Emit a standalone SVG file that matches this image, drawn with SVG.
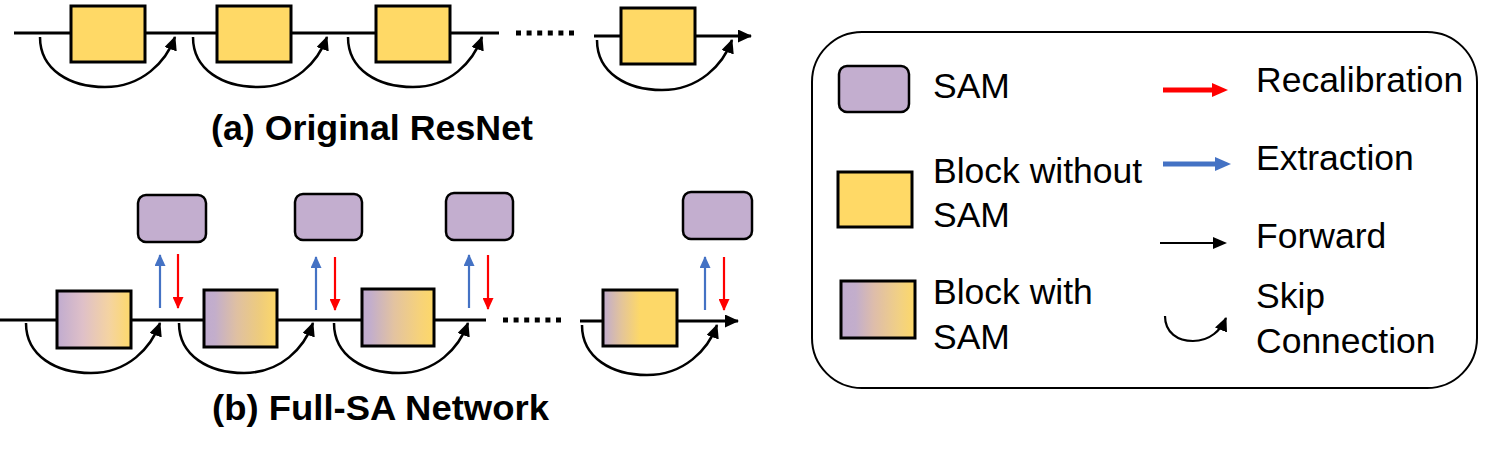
<svg xmlns="http://www.w3.org/2000/svg" width="1486" height="458" viewBox="0 0 1486 458">
<style>
.ln{stroke:#000;stroke-width:3;fill:none}
.arc{stroke:#000;stroke-width:2.5;fill:none;marker-end:url(#ah)}
.blk{fill:#FFD966;stroke:#000;stroke-width:3}
.sam{fill:#C3AECF;stroke:#000;stroke-width:2.5}
.dots{stroke:#000;stroke-width:5;stroke-dasharray:5 5.6;fill:none}
.up{stroke:#4472C4;stroke-width:2.2;fill:none;marker-end:url(#bh)}
.dn{stroke:#FF0000;stroke-width:2.2;fill:none;marker-end:url(#rh)}
.t{font-family:"Liberation Sans",Arial,sans-serif;font-size:35.5px;fill:#000}
.ti{font-family:"Liberation Sans",Arial,sans-serif;font-size:35px;font-weight:bold;fill:#000}
</style>
<defs>
<marker id="ah" markerUnits="userSpaceOnUse" markerWidth="14" markerHeight="13" viewBox="0 0 14 13" refX="13" refY="6.5" orient="auto"><path d="M0,0 L14,6.5 L0,13 z" fill="#000"/></marker>
<marker id="fh" markerUnits="userSpaceOnUse" markerWidth="14" markerHeight="13" viewBox="0 0 14 13" refX="13" refY="6.5" orient="auto"><path d="M0,0 L14,6.5 L0,13 z" fill="#000"/></marker>
<marker id="bh" markerUnits="userSpaceOnUse" markerWidth="12" markerHeight="11" viewBox="0 0 12 11" refX="11" refY="5.5" orient="auto"><path d="M0,0 L12,5.5 L0,11 z" fill="#4472C4"/></marker>
<marker id="rh" markerUnits="userSpaceOnUse" markerWidth="12" markerHeight="11" viewBox="0 0 12 11" refX="11" refY="5.5" orient="auto"><path d="M0,0 L12,5.5 L0,11 z" fill="#FF0000"/></marker>
<linearGradient id="g1" x1="0" x2="1" y1="0" y2="0"><stop offset="0" stop-color="#C0ABCF"/><stop offset="0.35" stop-color="#DFC0C8"/><stop offset="0.7" stop-color="#F4D3A2"/><stop offset="1" stop-color="#FDD96A"/></linearGradient>
<linearGradient id="g2" x1="0" x2="1" y1="0" y2="0"><stop offset="0" stop-color="#C0ABCF"/><stop offset="0.15" stop-color="#C3AECB"/><stop offset="0.45" stop-color="#DFC0A2"/><stop offset="0.75" stop-color="#EDCB7E"/><stop offset="1" stop-color="#FDD868"/></linearGradient>
<linearGradient id="g3" x1="0" x2="1" y1="0" y2="0"><stop offset="0" stop-color="#C0ABCF"/><stop offset="0.12" stop-color="#C3AECB"/><stop offset="0.45" stop-color="#E3C3A0"/><stop offset="0.8" stop-color="#F6D27A"/><stop offset="1" stop-color="#FDD868"/></linearGradient>
<linearGradient id="g4" x1="0" x2="1" y1="0" y2="0"><stop offset="0" stop-color="#C0ABCF"/><stop offset="0.25" stop-color="#E3C49A"/><stop offset="0.5" stop-color="#FDD868"/><stop offset="1" stop-color="#FDD868"/></linearGradient>
<linearGradient id="gl" x1="0" x2="1" y1="0" y2="0"><stop offset="0" stop-color="#C0ABCF"/><stop offset="0.2" stop-color="#C3AECB"/><stop offset="0.45" stop-color="#DEBDAA"/><stop offset="0.8" stop-color="#F2D182"/><stop offset="1" stop-color="#FDD868"/></linearGradient>
</defs>

<g id="connectors">
<!-- row (a) -->
<line class="ln" x1="14" y1="33" x2="499" y2="33"/>
<line class="dots" x1="516" y1="33" x2="575" y2="33"/>
<line class="ln" x1="594" y1="36" x2="751" y2="36" style="marker-end:url(#fh)"/>
<path class="arc" d="M40,37 C40,70 70,87 105,87 C142,87 166,62 175,37"/>
<path class="arc" d="M193,37 C193,70 223,87 258,87 C295,87 318,62 327,37"/>
<path class="arc" d="M348,37 C348,70 378,87 413,87 C450,87 473,62 482,37"/>
<path class="arc" d="M597,40 C597,73 627,90 662,90 C699,90 723,65 732,40"/>
<!-- row (b) -->
<line class="ln" x1="0" y1="320" x2="486" y2="320"/>
<line class="dots" x1="503" y1="320" x2="562" y2="320"/>
<line class="ln" x1="580" y1="321" x2="738" y2="321" style="marker-end:url(#fh)"/>
<path class="arc" d="M26,323 C26,356 56,373 91,373 C128,373 151,348 160,323"/>
<path class="arc" d="M179,323 C179,356 209,373 244,373 C281,373 304,348 313,323"/>
<path class="arc" d="M334,323 C334,356 364,373 399,373 C436,373 459,348 468,323"/>
<path class="arc" d="M582,325 C582,358 612,375 647,375 C684,375 708,350 717,325"/>
<!-- extraction / recalibration -->
<line class="up" x1="160" y1="308" x2="160" y2="255"/>
<line class="dn" x1="178" y1="254" x2="178" y2="308"/>
<line class="up" x1="316" y1="310" x2="316" y2="257"/>
<line class="dn" x1="335" y1="257" x2="335" y2="310"/>
<line class="up" x1="469" y1="308" x2="469" y2="255"/>
<line class="dn" x1="488" y1="255" x2="488" y2="309"/>
<line class="up" x1="705" y1="310" x2="705" y2="257"/>
<line class="dn" x1="724" y1="257" x2="724" y2="310"/>
</g>

<g id="row-a">
<rect id="a1" class="blk" x="71" y="6" width="74" height="56"/>
<rect id="a2" class="blk" x="217" y="6" width="74" height="56"/>
<rect id="a3" class="blk" x="376" y="6" width="74" height="56"/>
<rect id="a4" class="blk" x="621" y="8" width="74" height="56"/>
<text id="title-a" class="ti" x="211" y="140" textLength="322" lengthAdjust="spacingAndGlyphs">(a) Original ResNet</text>
</g>

<g id="row-b">
<rect id="b1" x="57" y="291" width="74" height="57" fill="url(#g1)" stroke="#000" stroke-width="3"/>
<rect id="b2" x="204" y="290" width="73" height="57" fill="url(#g2)" stroke="#000" stroke-width="3"/>
<rect id="b3" x="362" y="289" width="72" height="57" fill="url(#g3)" stroke="#000" stroke-width="3"/>
<rect id="b4" x="603" y="290" width="74" height="56" fill="url(#g4)" stroke="#000" stroke-width="3"/>
<rect id="s1" class="sam" x="138" y="195" width="68" height="47" rx="8"/>
<rect id="s2" class="sam" x="295" y="194" width="67" height="46" rx="8"/>
<rect id="s3" class="sam" x="446" y="193" width="67" height="47" rx="8"/>
<rect id="s4" class="sam" x="683" y="192" width="69" height="47" rx="8"/>
<text id="title-b" class="ti" x="212" y="420" textLength="337" lengthAdjust="spacingAndGlyphs">(b) Full-SA Network</text>
</g>

<g id="legend">
<rect x="812" y="32" width="665" height="356" rx="50" fill="none" stroke="#000" stroke-width="2"/>
<rect class="sam" x="839" y="66" width="70" height="46" rx="8"/>
<text class="t" x="933" y="98">SAM</text>
<rect class="blk" x="838" y="172" width="74" height="55"/>
<text class="t" x="933" y="183">Block without</text>
<text class="t" x="933" y="227">SAM</text>
<rect x="841" y="281" width="74" height="57" fill="url(#gl)" stroke="#000" stroke-width="3"/>
<text class="t" x="933" y="304">Block with</text>
<text class="t" x="933" y="349">SAM</text>
<line x1="1163" y1="90" x2="1214" y2="90" stroke="#FF0000" stroke-width="5"/>
<path d="M1212,83 L1228,90 L1212,97 z" fill="#FF0000"/>
<text class="t" x="1256" y="92">Recalibration</text>
<line x1="1163" y1="164" x2="1217" y2="164" stroke="#4472C4" stroke-width="5"/>
<path d="M1215,157 L1231,164 L1215,171 z" fill="#4472C4"/>
<text class="t" x="1256" y="170">Extraction</text>
<line x1="1160" y1="243" x2="1215" y2="243" stroke="#000" stroke-width="2"/>
<path d="M1213,237 L1227,243 L1213,249 z" fill="#000"/>
<text class="t" x="1256" y="248">Forward</text>
<path d="M1165,316 C1165,333 1178,341 1193,341 C1210,341 1221,330 1226,318" stroke="#000" stroke-width="2.2" fill="none" marker-end="url(#ah)"/>
<text class="t" x="1256" y="308">Skip</text>
<text class="t" x="1256" y="353">Connection</text>
</g>
</svg>
